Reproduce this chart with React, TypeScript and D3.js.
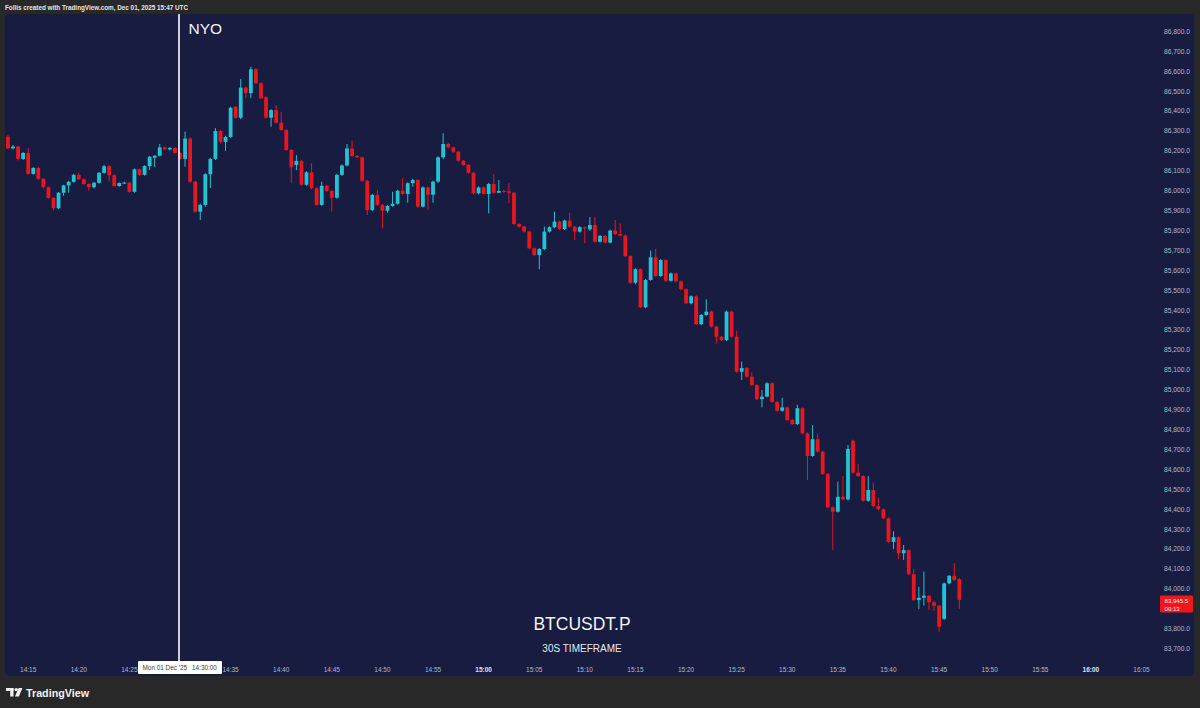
import React from "react";
import * as d3 from "d3";

const W = 1200;
const H = 708;

// 30-second candles, first bar at 14:13:00 UTC, Dec 01 2025
const START_UTC = Date.UTC(2025, 11, 1, 14, 13, 0);
const BAR_MS = 30000;

const opens = [
  86272, 86213, 86222, 86160, 86190, 86085, 86115, 86060, 86018, 85964,
  85912, 85990, 86027, 86045, 86080, 86058, 86034, 86018, 86040, 86090,
  86123, 86078, 86024, 86039, 86041, 85995, 86108, 86080, 86124, 86166,
  86176, 86218, 86208, 86215, 86190, 86160, 86262, 86046, 85895, 85929,
  86083, 86160, 86300, 86246, 86270, 86422, 86367, 86518, 86490, 86610,
  86540, 86470, 86367, 86405, 86342, 86305, 86205, 86130, 86150, 86030,
  86093, 86013, 85929, 86025, 85999, 85965, 86080, 86127, 86213, 86175,
  86168, 86050, 85903, 85979, 85929, 85900, 85924, 85935, 86000, 85984,
  86038, 86054, 85920, 86017, 85980, 86046, 86168, 86235, 86218, 86196,
  86151, 86130, 86090, 85987, 86017, 85984, 86034, 85990, 85999, 85998,
  85990, 85833, 85820, 85795, 85711, 85677, 85707, 85795, 85817, 85845,
  85808, 85850, 85820, 85795, 85817, 85806, 85828, 85744, 85773, 85740,
  85800, 85783, 85775, 85672, 85538, 85606, 85415, 85552, 85666, 85572,
  85652, 85548, 85585, 85545, 85506, 85435, 85470, 85330, 85376, 85393,
  85318, 85267, 85250, 85393, 85267, 85091, 85110, 85066, 85024, 84953,
  84966, 85033, 84940, 84895, 84912, 84849, 84828, 84908, 84782, 84668,
  84752, 84690, 84578, 84410, 84388, 84463, 84450, 84745, 84584, 84567,
  84443, 84497, 84417, 84400, 84355, 84237, 84260, 84179, 84195, 84074,
  83944, 83956, 83966, 83933, 83916, 83850, 84028, 84066, 84050,
];

const highs = [
  86280, 86230, 86226, 86195, 86215, 86118, 86118, 86064, 86022, 85968,
  85994, 86030, 86050, 86085, 86090, 86062, 86038, 86044, 86094, 86130,
  86128, 86082, 86042, 86046, 86045, 86112, 86112, 86128, 86175, 86178,
  86235, 86222, 86220, 86218, 86194, 86297, 86268, 86050, 85935, 86088,
  86165, 86315, 86305, 86276, 86422, 86426, 86561, 86522, 86623, 86615,
  86545, 86475, 86410, 86430, 86397, 86310, 86210, 86180, 86155, 86098,
  86138, 86018, 86045, 86030, 86004, 86085, 86132, 86235, 86252, 86180,
  86172, 86055, 85984, 86005, 85934, 85928, 85995, 86005, 86063, 86043,
  86060, 86058, 86022, 86021, 86051, 86173, 86289, 86240, 86222, 86200,
  86155, 86134, 86094, 86022, 86022, 86040, 86084, 86054, 86004, 86038,
  85995, 85837, 85824, 85800, 85715, 85712, 85820, 85822, 85895, 85850,
  85855, 85890, 85824, 85822, 85821, 85868, 85870, 85778, 85778, 85805,
  85853, 85836, 85780, 85676, 85611, 85610, 85557, 85700, 85708, 85657,
  85656, 85590, 85590, 85550, 85510, 85475, 85475, 85381, 85455, 85398,
  85322, 85271, 85398, 85398, 85298, 85142, 85115, 85088, 85028, 84999,
  85038, 85038, 84945, 84960, 84916, 84853, 84925, 84912, 84786, 84823,
  84780, 84694, 84582, 84414, 84539, 84567, 84723, 84750, 84627, 84571,
  84567, 84535, 84460, 84404, 84359, 84290, 84265, 84221, 84199, 84100,
  84011, 84087, 83970, 83940, 83920, 84032, 84070, 84129, 84055,
];

const lows = [
  86210, 86208, 86152, 86155, 86080, 86080, 86055, 86012, 85960, 85900,
  85908, 85975, 85990, 86040, 86054, 86030, 86000, 86012, 86036, 86086,
  86046, 86020, 86020, 86034, 85990, 85990, 86075, 86076, 86104, 86120,
  86172, 86204, 86204, 86186, 86155, 86121, 86040, 85890, 85853, 85920,
  86014, 86155, 86240, 86200, 86265, 86362, 86360, 86465, 86465, 86535,
  86460, 86362, 86322, 86338, 86300, 86200, 86038, 86104, 86025, 86025,
  86008, 85925, 85925, 85995, 85895, 85960, 86075, 86122, 86170, 86164,
  86045, 85878, 85898, 85924, 85812, 85890, 85920, 85930, 85980, 85940,
  86020, 85915, 85916, 85903, 85940, 86040, 86160, 86212, 86190, 86146,
  86125, 86085, 85982, 85982, 85980, 85887, 85985, 85990, 85990, 85937,
  85828, 85815, 85790, 85706, 85672, 85606, 85702, 85790, 85812, 85803,
  85803, 85815, 85753, 85790, 85736, 85800, 85740, 85740, 85735, 85736,
  85778, 85770, 85667, 85533, 85530, 85410, 85410, 85548, 85568, 85568,
  85543, 85544, 85540, 85500, 85430, 85430, 85325, 85325, 85372, 85313,
  85232, 85245, 85245, 85262, 85086, 85050, 85061, 85020, 84948, 84912,
  84962, 84935, 84890, 84890, 84844, 84823, 84824, 84777, 84547, 84664,
  84685, 84573, 84405, 84195, 84384, 84445, 84445, 84579, 84562, 84438,
  84438, 84412, 84395, 84350, 84232, 84200, 84150, 84146, 84070, 83940,
  83899, 83916, 83894, 83890, 83785, 83845, 84024, 84040, 83900,
];

const closes = [
  86213, 86222, 86160, 86190, 86085, 86115, 86060, 86018, 85964, 85912,
  85990, 86027, 86045, 86080, 86058, 86034, 86018, 86040, 86090, 86123,
  86078, 86024, 86039, 86041, 85995, 86108, 86080, 86124, 86171, 86176,
  86218, 86208, 86215, 86190, 86160, 86262, 86046, 85895, 85929, 86083,
  86160, 86300, 86246, 86270, 86417, 86367, 86518, 86490, 86610, 86540,
  86465, 86367, 86405, 86342, 86305, 86205, 86118, 86150, 86030, 86093,
  86013, 85929, 86025, 85999, 85965, 86080, 86127, 86213, 86175, 86168,
  86050, 85903, 85979, 85929, 85900, 85924, 85935, 86000, 85984, 86038,
  86054, 85920, 86017, 85980, 86046, 86168, 86235, 86218, 86196, 86151,
  86130, 86090, 85987, 86017, 85984, 86034, 85990, 85999, 85995, 85990,
  85833, 85820, 85795, 85711, 85677, 85707, 85795, 85817, 85845, 85808,
  85850, 85820, 85795, 85817, 85813, 85828, 85744, 85773, 85740, 85800,
  85783, 85775, 85672, 85538, 85606, 85415, 85552, 85666, 85572, 85652,
  85548, 85585, 85545, 85506, 85435, 85470, 85330, 85376, 85393, 85318,
  85267, 85250, 85393, 85267, 85091, 85110, 85066, 85024, 84953, 84966,
  85033, 84940, 84895, 84912, 84849, 84828, 84908, 84782, 84668, 84752,
  84690, 84578, 84410, 84388, 84463, 84450, 84703, 84584, 84567, 84443,
  84497, 84417, 84400, 84355, 84237, 84260, 84179, 84195, 84074, 83944,
  83956, 83966, 83933, 83916, 83810, 84028, 84066, 84045, 83945.5,
];

const priceTicks = [
  86800, 86700, 86600, 86500, 86400, 86300, 86200, 86100, 86000, 85900,
  85800, 85700, 85600, 85500, 85400, 85300, 85200, 85100, 85000, 84900,
  84800, 84700, 84600, 84500, 84400, 84300, 84200, 84100, 84000, 83900,
  83800, 83700,
];

const timeTicks = [
  "14:15", "14:20", "14:25", "14:35", "14:40", "14:45", "14:50", "14:55",
  "15:00", "15:05", "15:10", "15:15", "15:20", "15:25", "15:30", "15:35",
  "15:40", "15:45", "15:50", "15:55", "16:00", "16:05",
];
const boldTimeTicks = ["15:00", "16:00"];

const SESSION_START = "14:30";
const SESSION_LABEL = "NYO";
const SYMBOL = "BTCUSDT.P";
const SUBTITLE = "30S TIMEFRAME";
const HEADER = "Follis created with TradingView.com, Dec 01, 2025 15:47 UTC";
const LAST_PRICE = 83945.5;
const COUNTDOWN = "00:13";
const CROSSHAIR_DATE = "Mon 01 Dec '25";
const CROSSHAIR_TIME = "14:30:00";

const UP = "#22c3d3";
const DOWN = "#e8161e";
const PANEL = "#171c40";
const OUTER = "#282828";
const AXIS_TEXT = "#b4b8c8";
const FONT = "'Liberation Sans', Arial, Helvetica, sans-serif";

const hm = (s: string) => {
  const [h, m] = s.split(":").map(Number);
  return new Date(Date.UTC(2025, 11, 1, h, m, 0));
};

export default function App() {
  const x = d3
    .scaleUtc()
    .domain([hm("14:30"), hm("16:05")])
    .range([180, 1141.5]);
  const y = d3.scaleLinear().domain([83700, 86800]).range([648.7, 31.5]);
  const fmt = d3.format(",.1f");

  const candles = opens.map((o, i) => ({
    t: new Date(START_UTC + i * BAR_MS),
    o,
    h: highs[i],
    l: lows[i],
    c: closes[i],
  }));
  const bodyW = 3.8;
  const sessionX = x(hm(SESSION_START)) - 1;

  // last-price badge, centred on the last close; it hides axis labels beneath it
  const badgeH = 17;
  const badgeY = y(LAST_PRICE) - 4.3;
  const visiblePriceTicks = priceTicks.filter((p) => {
    const ty = y(p);
    return ty + 3 < badgeY || ty - 3 > badgeY + badgeH;
  });

  return (
    <svg
      width={W}
      height={H}
      viewBox={`0 0 ${W} ${H}`}
      style={{ position: "absolute", left: 0, top: 0, display: "block" }}
      fontFamily={FONT}
    >
      <rect x={0} y={0} width={W} height={H} fill={OUTER} />
      <text
        x={5}
        y={10}
        fontSize={6.8}
        fontWeight={600}
        fill="#e6e6e6"
        textLength={183}
        lengthAdjust="spacingAndGlyphs"
      >
        {HEADER}
      </text>
      <rect x={5} y={14} width={1189} height={662} rx={4} fill={PANEL} />

      {/* price axis labels */}
      {visiblePriceTicks.map((p) => (
        <text
          key={p}
          x={1190}
          y={y(p) + 2.3}
          textAnchor="end"
          fontSize={6.7}
          fill={AXIS_TEXT}
        >
          {fmt(p)}
        </text>
      ))}

      {/* time axis labels */}
      {timeTicks.map((s) => (
        <text
          key={s}
          x={x(hm(s))}
          y={671.5}
          textAnchor="middle"
          fontSize={6.5}
          fontWeight={boldTimeTicks.includes(s) ? 700 : 400}
          fill={boldTimeTicks.includes(s) ? "#e2e4ec" : AXIS_TEXT}
        >
          {s}
        </text>
      ))}

      {/* candles */}
      {candles.map((d, i) => {
        const cx = x(d.t);
        const up = d.c >= d.o;
        const col = up ? UP : DOWN;
        const top = y(Math.max(d.o, d.c));
        const bot = y(Math.min(d.o, d.c));
        return (
          <g key={i}>
            <line
              x1={cx}
              x2={cx}
              y1={y(d.h)}
              y2={y(d.l)}
              stroke={col}
              strokeWidth={1}
            />
            <rect
              x={cx - bodyW / 2}
              y={top}
              width={bodyW}
              height={Math.max(1, bot - top)}
              fill={col}
            />
          </g>
        );
      })}

      {/* session line */}
      <line
        x1={sessionX}
        x2={sessionX}
        y1={14}
        y2={661}
        stroke="#ffffff"
        strokeWidth={1.6}
      />
      <text x={188.5} y={34} fontSize={15.5} fill="#f2f2f6">
        {SESSION_LABEL}
      </text>

      {/* crosshair time tooltip */}
      <rect x={138} y={661} width={84} height={13} fill="#ffffff" rx={1} />
      <text x={142.5} y={670} fontSize={6.4} fill="#3a3a3a">
        {CROSSHAIR_DATE}
      </text>
      <text x={192} y={670} fontSize={6.4} fill="#3a3a3a">
        {CROSSHAIR_TIME}
      </text>

      {/* last price label */}
      <rect x={1160} y={badgeY} width={33} height={badgeH} fill="#f0161c" rx={1} />
      <text x={1164.5} y={badgeY + 7.1} fontSize={6.1} fill="#ffe9ea">
        {fmt(LAST_PRICE)}
      </text>
      <text x={1164.5} y={badgeY + 15.1} fontSize={6.1} fill="#ffe9ea">
        {COUNTDOWN}
      </text>

      {/* watermark */}
      <text
        x={582}
        y={630}
        textAnchor="middle"
        fontSize={17.5}
        fill="#f2f2f6"
      >
        {SYMBOL}
      </text>
      <text
        x={582}
        y={652}
        textAnchor="middle"
        fontSize={10}
        fill="#e8e8ee"
      >
        {SUBTITLE}
      </text>

      {/* TradingView logo */}
      <g fill="#f2f2f2">
        <rect x={6} y={688} width={7.5} height={3} />
        <rect x={10.2} y={688} width={3.3} height={8.5} />
        <circle cx={16.2} cy={689.6} r={1.7} />
        <polygon points="18.6,688 22.4,688 18.9,696.5 15,696.5" />
      </g>
      <text
        x={26}
        y={696.5}
        fontSize={11.2}
        fontWeight={700}
        fill="#f2f2f2"
        textLength={63}
        lengthAdjust="spacingAndGlyphs"
      >
        TradingView
      </text>
    </svg>
  );
}
